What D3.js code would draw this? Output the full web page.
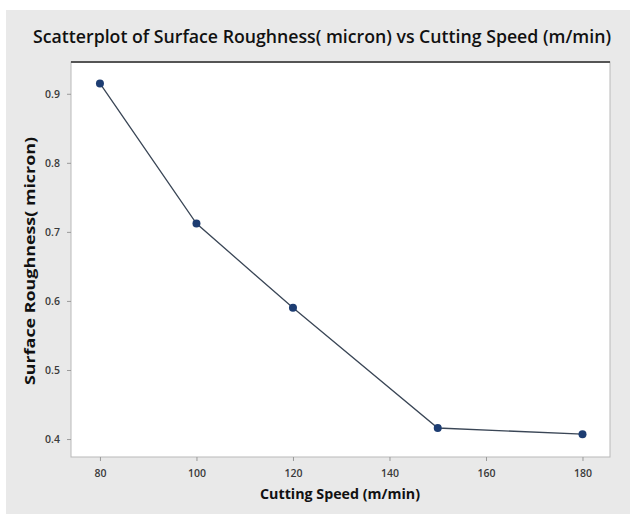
<!DOCTYPE html>
<html>
<head>
<meta charset="utf-8">
<script src="https://cdn.jsdelivr.net/npm/d3@7/dist/d3.min.js"></script>
<style>
  html, body { margin: 0; padding: 0; background: #ffffff; }
  svg { display: block; }
  text { font-family: "Open Sans", "DejaVu Sans", sans-serif; }
</style>
</head>
<body>
<svg id="chart" width="630" height="514"></svg>
<script>
// Cutting speed (m/min) and measured surface roughness (micron)
const speeds = [80, 100, 120, 150, 180];
const roughness = [0.915, 0.712, 0.59, 0.416, 0.407];
const xTicks = [80, 100, 120, 140, 160, 180];
const yTicks = [0.4, 0.5, 0.6, 0.7, 0.8, 0.9];

const titleText = "Scatterplot of Surface Roughness( micron) vs Cutting Speed (m/min)";
const xLabel = "Cutting Speed (m/min)";
const yLabel = "Surface Roughness( micron)";

const W = 630, H = 514;
const plot = { left: 71, right: 610, top: 62, bottom: 457 };

const svg = d3.select("#chart");

// graph region background
svg.append("rect")
  .attr("x", 6).attr("y", 10)
  .attr("width", W - 6).attr("height", H - 10)
  .attr("fill", "#e9e9e9");

// data region
svg.append("rect")
  .attr("x", plot.left).attr("y", plot.top)
  .attr("width", plot.right - plot.left).attr("height", plot.bottom - plot.top)
  .attr("fill", "#ffffff")
  .attr("stroke", "#b9b9b9").attr("stroke-width", 1);
svg.append("line")
  .attr("x1", plot.left).attr("x2", plot.right)
  .attr("y1", plot.top).attr("y2", plot.top)
  .attr("stroke", "#555555").attr("stroke-width", 2);

const x = d3.scaleLinear().domain([74, 185.7]).range([plot.left, plot.right]);
const y = d3.scaleLinear().domain([0.374, 0.946]).range([plot.bottom, plot.top]);

// axes
const xAxis = d3.axisBottom(x).tickValues(xTicks).tickSize(4).tickPadding(9)
  .tickFormat(d3.format("d"));
const yAxis = d3.axisLeft(y).tickValues(yTicks).tickSize(4).tickPadding(7)
  .tickFormat(d3.format(".1f"));

const gx = svg.append("g").attr("transform", `translate(0,${plot.bottom})`).call(xAxis);
const gy = svg.append("g").attr("transform", `translate(${plot.left},0)`).call(yAxis);
[gx, gy].forEach(g => {
  g.select(".domain").remove();
  g.selectAll(".tick line").attr("stroke", "#9a9a9a");
  g.selectAll(".tick text")
    .attr("fill", "#3a3a3a")
    .style("font-size", "10.5px")
    .style("font-weight", "600");
});

// connecting line
const pts = speeds.map((s, i) => [s, roughness[i]]);
svg.append("path")
  .datum(pts)
  .attr("fill", "none")
  .attr("stroke", "#3a4656")
  .attr("stroke-width", 1.3)
  .attr("d", d3.line().x(d => x(d[0])).y(d => y(d[1])));

// markers
svg.append("g").selectAll("circle")
  .data(pts)
  .join("circle")
  .attr("cx", d => x(d[0]))
  .attr("cy", d => y(d[1]))
  .attr("r", 4)
  .attr("fill", "#1d3d72");

// title
svg.append("text")
  .attr("x", 322).attr("y", 43)
  .attr("text-anchor", "middle")
  .attr("textLength", 578)
  .attr("lengthAdjust", "spacingAndGlyphs")
  .attr("fill", "#111111")
  .style("font-size", "18px")
  .style("font-weight", "600")
  .text(titleText);

// axis titles
svg.append("text")
  .attr("x", 340).attr("y", 499)
  .attr("text-anchor", "middle")
  .attr("textLength", 160)
  .attr("lengthAdjust", "spacingAndGlyphs")
  .attr("fill", "#111111")
  .style("font-size", "15px")
  .style("font-weight", "700")
  .text(xLabel);

svg.append("text")
  .attr("transform", "translate(35,261) rotate(-90)")
  .attr("text-anchor", "middle")
  .attr("textLength", 248)
  .attr("lengthAdjust", "spacingAndGlyphs")
  .attr("fill", "#111111")
  .style("font-size", "15px")
  .style("font-weight", "700")
  .text(yLabel);
</script>
</body>
</html>
